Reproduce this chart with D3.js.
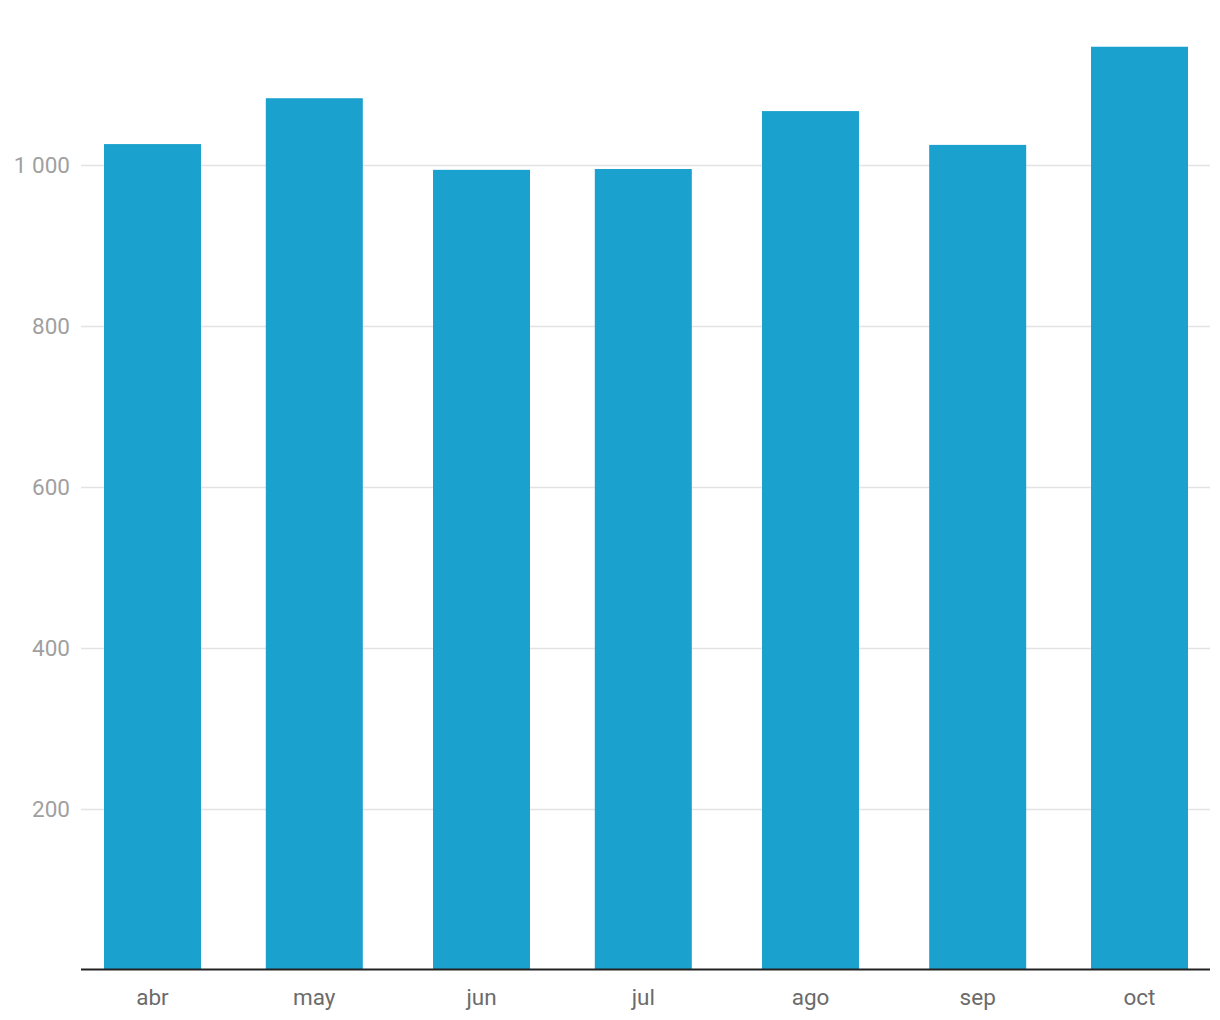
<!DOCTYPE html>
<html><head><meta charset="utf-8">
<script src="https://cdn.jsdelivr.net/npm/d3@7"></script>
<style>
html,body{margin:0;padding:0;background:#fff;}
svg text{font-family:Roboto,"Noto Sans",sans-serif;}
</style></head>
<body>
<svg id="chart" width="1220" height="1020"></svg>
<script>
const months = ["2023-04-01","2023-05-01","2023-06-01","2023-07-01","2023-08-01","2023-09-01","2023-10-01"];
const monthLabels = ["abr","may","jun","jul","ago","sep","oct"];
const values = [1026, 1083, 994, 995, 1067, 1025, 1147];
const yTicks = [200, 400, 600, 800, 1000];

const svg = d3.select("#chart");
const axisLeft = 81, axisRight = 1210;
const barW = 97;
const dates = months.map(d => new Date(d + "T00:00:00Z"));

const x = d3.scaleUtc().domain([dates[0], dates[dates.length-1]]).range([104, 1091]);
const y = d3.scaleLinear().domain([0, 1000]).range([969.5, 165]);

const fmt = v => d3.format(",")(v).replace(/,/g, " ");

// grid
svg.append("g").selectAll("line").data(yTicks).join("line")
  .attr("x1", axisLeft).attr("x2", axisRight)
  .attr("y1", d => Math.round(y(d)) + 0.5).attr("y2", d => Math.round(y(d)) + 0.5)
  .attr("stroke", "#e3e3e3").attr("stroke-width", 1.3);

svg.append("g").selectAll("text").data(yTicks).join("text")
  .attr("x", 70).attr("y", d => y(d))
  .attr("dy", "0.36em").attr("text-anchor", "end")
  .attr("font-size", 22.5).attr("fill", "#a0a0a0")
  .text(d => fmt(d));

// bars
svg.append("g").selectAll("rect").data(values).join("rect")
  .attr("x", (d, i) => x(dates[i]))
  .attr("width", barW)
  .attr("y", d => y(d))
  .attr("height", d => y(0) - y(d))
  .attr("fill", "#1aa1cd");

// baseline
svg.append("line").attr("x1", axisLeft).attr("x2", axisRight)
  .attr("y1", y(0)).attr("y2", y(0))
  .attr("stroke", "#222").attr("stroke-width", 2);

// x labels
svg.append("g").selectAll("text").data(monthLabels).join("text")
  .attr("x", (d, i) => x(dates[i]) + barW / 2)
  .attr("y", 1005)
  .attr("text-anchor", "middle")
  .attr("font-size", 22.5).attr("fill", "#6b6b6b")
  .text(d => d);
</script>
</body></html>
